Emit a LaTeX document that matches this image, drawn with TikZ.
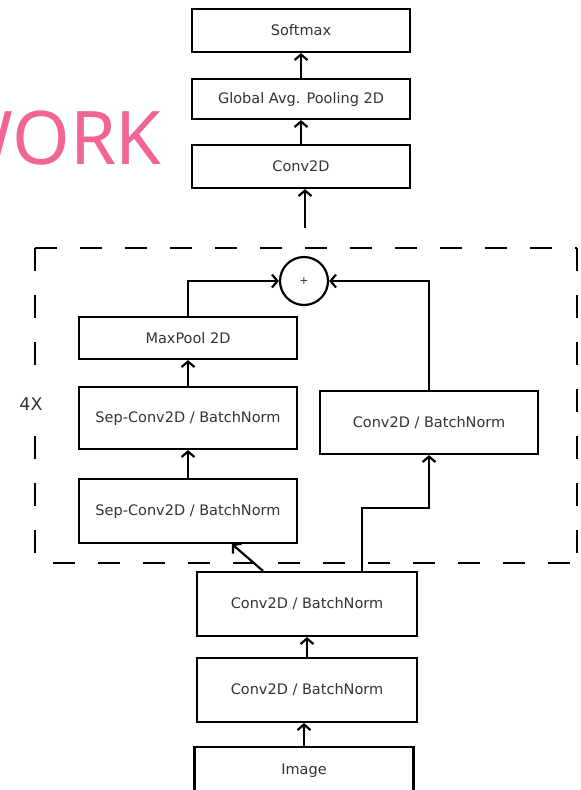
\documentclass[tikz,border=0pt]{standalone}
\usepackage{fontspec}
\setmainfont{DejaVu Sans}
\newfontfamily\workfont{Noto Sans}
\usetikzlibrary{arrows.meta}
\definecolor{workpink}{RGB}{240,101,148}
\tikzset{
  box/.style={draw=black, line width=2.2pt, fill=white, inner sep=0pt, text=black!80,
    font=\fontsize{14.5}{17}\selectfont, minimum width=218pt},
  arr/.style={line width=2.2pt, -{Straight Barb[length=5.5pt,width=13pt,line width=2.2pt]}},
  dashh/.style={line width=2.2pt, dash pattern=on 22pt off 23pt},
  dashv/.style={line width=2.2pt, dash pattern=on 23pt off 24pt},
}
\begin{document}
\begin{tikzpicture}[x=1pt,y=-1pt]
\useasboundingbox (0,0) rectangle (581,790);
\clip (0,0) rectangle (581,790);
\fill[white] (0,0) rectangle (581,790);
% pink title fragment
\node[anchor=base east, inner sep=0pt, text=workpink, font=\workfont\fontsize{74}{80}\selectfont] (work) at (162,164) {WORK};
% dashed repeat box
\coordinate (tl) at (35,248);
\coordinate (tr) at (577,248);
\coordinate (bl) at (35,563);
\coordinate (br) at (577,563);
\draw[dashh] (tl) -- (tr);
\draw[dashv] (tl) -- (bl);
\draw[dashv] (tr) -- (br);
\draw[dashh] (53,563) -- (581,563);
\node[fill=white, inner xsep=3pt, inner ysep=12pt, text=black!80, font=\fontsize{17.5}{20}\selectfont] (rep) at (31,404) {4X};
% top stack
\node[box, minimum height=43pt] (soft) at (301,30.5) {Softmax};
\node[box, minimum height=40pt] (gap) at (301,99) {Global Avg. Pooling 2D};
\node[box, minimum height=43pt] (conv) at (301,166.5) {Conv2D};
\coordinate (cin) at (305,228);
% block
\node[draw, line width=2.2pt, circle, minimum size=48pt, inner sep=0pt, font=\fontsize{11}{12}\selectfont, text=black!80] (plus) at (304,281) {+};
\node[box, minimum height=42pt] (maxp) at (188,338) {MaxPool 2D};
\node[box, minimum height=62pt] (sep1) at (188,418) {Sep-Conv2D / BatchNorm};
\node[box, minimum height=64pt] (sep2) at (188,511) {Sep-Conv2D / BatchNorm};
\node[box, minimum height=63pt] (rconv) at (429,422.5) {Conv2D / BatchNorm};
% bottom stack
\node[box, minimum width=220pt, minimum height=64pt] (c1) at (307,604) {Conv2D / BatchNorm};
\node[box, minimum width=220pt, minimum height=64pt] (c2) at (307,690) {Conv2D / BatchNorm};
\node[box, minimum width=219pt, minimum height=48pt] (img) at (304,771) {Image};
% connectors
\draw[arr] (img.north) -- (img.north |- c2.south);
\draw[arr] (c2) -- (c1);
\draw[arr] ([xshift=-44pt]c1.north) -- ([xshift=44pt]sep2.south);
\draw[arr] ([xshift=55pt]c1.north) -- ++(0,-63) -| (rconv.south);
\draw[arr] (sep2.north) -- (sep1.south);
\draw[arr] (sep1.north) -- (maxp.south);
\draw[arr] (maxp.north) |- (plus.west);
\draw[arr] (rconv.north) |- (plus.east);
\draw[arr] (cin) -- (cin |- conv.south);
\draw[arr] (conv) -- (gap);
\draw[arr] (gap) -- (soft);
\end{tikzpicture}
\end{document}
